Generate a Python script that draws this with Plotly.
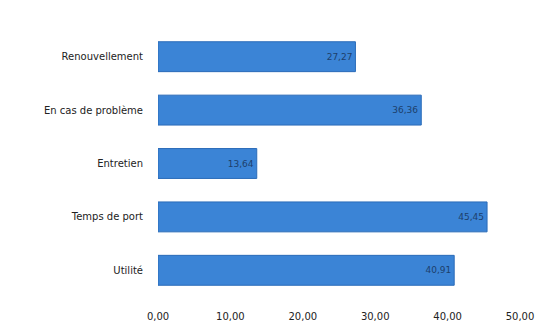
import plotly.graph_objects as go

categories = ["Utilité", "Temps de port", "Entretien", "En cas de problème", "Renouvellement"]
values = [40.91, 45.45, 13.64, 36.36, 27.27]
tick_vals = [0, 10, 20, 30, 40, 50]

fig = go.Figure(go.Bar(
    y=categories, x=values, orientation="h",
    marker=dict(color="#3b84d6", line=dict(color="#2a6bb8", width=1)),
    width=0.56,
    texttemplate="%{x:.2f}", textposition="inside", insidetextanchor="end",
    textfont=dict(size=9, color="#1d3f6b", family="DejaVu Sans"),
))
fig.update_layout(
    width=546, height=335,
    margin=dict(l=158, r=23, t=30, b=38),
    paper_bgcolor="white", plot_bgcolor="white",
    separators=", ",
    showlegend=False,
    font=dict(family="DejaVu Sans", size=10, color="#222222"),
    xaxis=dict(range=[0, 50], tickvals=tick_vals, tickformat=".2f",
               showgrid=False, zeroline=False,
               ticks="", tickfont=dict(size=10, color="#222222"), ticklabelstandoff=12),
    yaxis=dict(showgrid=False, ticks="", ticklabelstandoff=14,
               tickfont=dict(size=10, color="#222222")),
)
fig.write_html("out.html")
